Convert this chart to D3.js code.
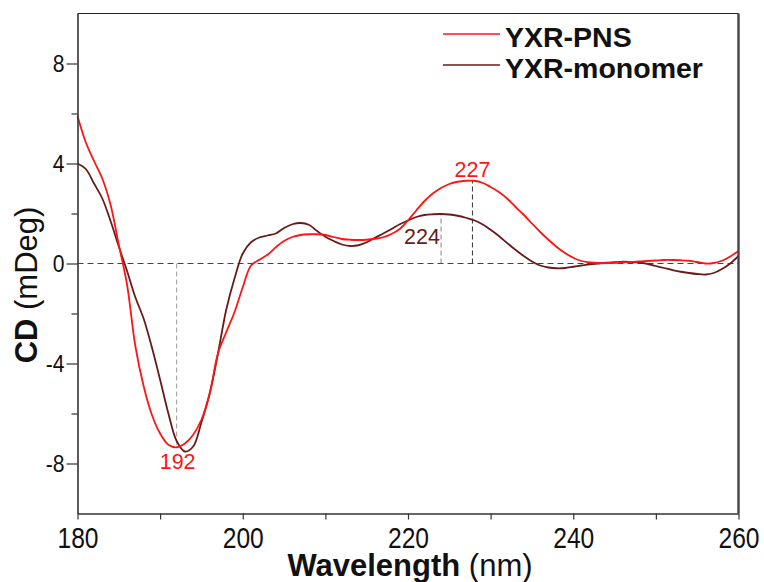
<!DOCTYPE html>
<html><head><meta charset="utf-8">
<script src="https://cdn.jsdelivr.net/npm/d3@7"></script>
<style>body{margin:0;background:#fff}</style></head>
<body><svg id="c" width="764" height="582"></svg>
<script>
const wavelength = d3.range(180, 261, 1);
const pns = [5.9,4.85,4.1,3.4,2.35,0.75,-0.85,-3.3,-4.9,-6.05,
  -6.8,-7.25,-7.35,-7.2,-6.85,-6.25,-5.2,-3.6,-2.75,-1.95,
  -0.95,-0.08,0.15,0.35,0.65,0.9,1.06,1.14,1.17,1.17,
  1.14,1.06,0.98,0.95,0.94,0.95,0.99,1.05,1.18,1.38,
  1.72,2.12,2.5,2.8,3.02,3.18,3.27,3.31,3.31,3.23,
  3.06,2.86,2.6,2.27,1.95,1.6,1.26,0.95,0.66,0.42,
  0.23,0.1,0.04,0.02,0.02,0.03,0.05,0.06,0.08,0.1,
  0.12,0.14,0.14,0.13,0.11,0.06,0.0,0.02,0.11,0.28,0.5];
const monomer = [4.0,3.78,3.2,2.6,1.7,0.68,-0.3,-1.35,-2.2,-3.35,
  -4.65,-6.0,-7.1,-7.52,-7.32,-6.35,-5.2,-3.6,-1.85,-0.6,
  0.4,0.85,1.04,1.12,1.2,1.42,1.57,1.62,1.55,1.3,
  1.07,0.9,0.76,0.7,0.73,0.85,1.03,1.2,1.38,1.57,
  1.72,1.86,1.94,1.97,1.98,1.96,1.91,1.83,1.73,1.57,
  1.35,1.1,0.82,0.55,0.3,0.08,-0.08,-0.16,-0.19,-0.18,
  -0.13,-0.08,-0.03,0.0,0.03,0.05,0.07,0.06,0.04,-0.02,
  -0.1,-0.18,-0.26,-0.33,-0.38,-0.42,-0.44,-0.38,-0.22,0.0,0.3];
const seriesNames = ["YXR-PNS", "YXR-monomer"];
const seriesColors = ["#ff1414", "#6b1a1a"];
const xTicks = [180,190,200,210,220,230,240,250,260];
const xTickLabels = ["180","","200","","220","","240","","260"];
const yMajorTicks = [-8,-4,0,4,8];
const yMajorLabels = ["-8","-4","0","4","8"];
const yMinorTicks = [-6,-2,2,6];
const peakLabels = ["192","227","224"];
const peakX = [192, 227.8, 224];
const peakSeries = [0, 0, 1];
const peakLineColors = ["#9a9a9a", "#333333", "#888888"];
const peakLabelColors = ["#ff1414", "#ff1414", "#6b1a1a"];

const svg = d3.select("#c");
const L = 77.5, R = 738.5, T = 13.5, B = 513.5;
const x = d3.scaleLinear().domain([180, 260]).range([L, R]);
const y = d3.scaleLinear().domain([-10, 10]).range([B, T]);
const sans = "'Liberation Sans',Arial,sans-serif";
function condense(sel, k) {
  sel.each(function () {
    const w = this.getComputedTextLength();
    if (w > 0) d3.select(this).attr("textLength", w * k).attr("lengthAdjust", "spacingAndGlyphs");
  });
}

// zero line
svg.append("line").attr("x1", L).attr("x2", R).attr("y1", y(0)).attr("y2", y(0))
  .attr("stroke", "#444").attr("stroke-width", 1).attr("stroke-dasharray", "6,4");

// peak guide lines
const seriesData = [pns, monomer];
const valAt = (s, wl) => {
  const d = seriesData[s];
  const i = Math.floor(wl - 180), f = wl - 180 - i;
  return i >= d.length - 1 ? d[d.length - 1] : d[i] * (1 - f) + d[i + 1] * f;
};
peakX.forEach((wl, i) => {
  svg.append("line").attr("x1", x(wl)).attr("x2", x(wl))
    .attr("y1", y(0)).attr("y2", y(valAt(peakSeries[i], wl)))
    .attr("stroke", peakLineColors[i]).attr("stroke-width", 1).attr("stroke-dasharray", "5,3");
});

// curves
const line = d3.line().curve(d3.curveCatmullRom.alpha(0.5))
  .x((d, i) => x(wavelength[i])).y(d => y(d));
[1, 0].forEach(s => {
  svg.append("path").attr("d", line(seriesData[s])).attr("fill", "none")
    .attr("stroke", seriesColors[s]).attr("stroke-width", 1.8);
});

// axes
const gx = svg.append("g").attr("transform", `translate(0,${B})`)
  .call(d3.axisBottom(x).tickValues(xTicks).tickSize(6).tickSizeOuter(0)
    .tickFormat((d, i) => xTickLabels[i]));
gx.select(".domain").attr("stroke", "#333").attr("stroke-width", 1.6);
gx.selectAll(".tick line").attr("stroke", "#333").attr("stroke-width", 1.2);
gx.selectAll(".tick text").attr("font-family", sans).attr("font-size", 30)
  .attr("fill", "#111").attr("y", 34.5).attr("dy", 0);
condense(gx.selectAll(".tick text"), 0.82);

const gy = svg.append("g").attr("transform", `translate(${L},0)`)
  .call(d3.axisLeft(y).tickValues(yMajorTicks).tickSize(11).tickSizeOuter(0).tickPadding(2)
    .tickFormat((d, i) => yMajorLabels[i]));
gy.select(".domain").attr("stroke", "#333").attr("stroke-width", 1.6);
gy.selectAll(".tick line").attr("stroke", "#333").attr("stroke-width", 1.2);
gy.selectAll(".tick text").attr("font-family", sans).attr("font-size", 24).attr("fill", "#111");
condense(gy.selectAll(".tick text"), 0.88);
const gym = svg.append("g").attr("transform", `translate(${L},0)`)
  .call(d3.axisLeft(y).tickValues(yMinorTicks).tickSize(6).tickSizeOuter(0).tickFormat(""));
gym.select(".domain").remove();
gym.selectAll(".tick line").attr("stroke", "#333").attr("stroke-width", 1.2);

// frame top & right
svg.append("line").attr("x1", L).attr("x2", R).attr("y1", T).attr("y2", T)
  .attr("stroke", "#222").attr("stroke-width", 1.2);
svg.append("line").attr("x1", R).attr("x2", R).attr("y1", T).attr("y2", B)
  .attr("stroke", "#444").attr("stroke-width", 2.4);

// peak labels
peakX.forEach((wl, i) => {
  let tx = x(wl), ty;
  if (i === 0) { tx = x(wl) + 1; ty = 469; }
  else if (i === 1) { ty = 176.5; }
  else { tx = x(wl) - 19; ty = 243.5; }
  svg.append("text").attr("x", tx).attr("y", ty).attr("text-anchor", "middle")
    .attr("font-family", sans).attr("font-size", 21.5).attr("fill", peakLabelColors[i])
    .text(peakLabels[i]);
});

// legend
seriesNames.forEach((n, i) => {
  const ly = 34 + i * 31;
  svg.append("line").attr("x1", 443).attr("x2", 500).attr("y1", ly).attr("y2", ly)
    .attr("stroke", seriesColors[i]).attr("stroke-width", 1.6);
  svg.append("text").attr("x", 505).attr("y", ly + 13).attr("font-family", sans)
    .attr("font-weight", "bold").attr("font-size", 28.5).attr("fill", "#111").text(n);
});

// axis titles
const xt = svg.append("text").attr("x", (L + R) / 2 + 2).attr("y", 576).attr("text-anchor", "middle")
  .attr("font-family", sans).attr("font-size", 31).attr("fill", "#111");
xt.append("tspan").attr("font-weight", "bold").text("Wavelength");
xt.append("tspan").text(" (nm)");
const yt = svg.append("text").attr("transform", "translate(37,285) rotate(-90)")
  .attr("text-anchor", "middle").attr("font-family", sans).attr("font-size", 31).attr("fill", "#111");
yt.append("tspan").attr("font-weight", "bold").text("CD");
yt.append("tspan").text(" (mDeg)");
</script></body></html>
